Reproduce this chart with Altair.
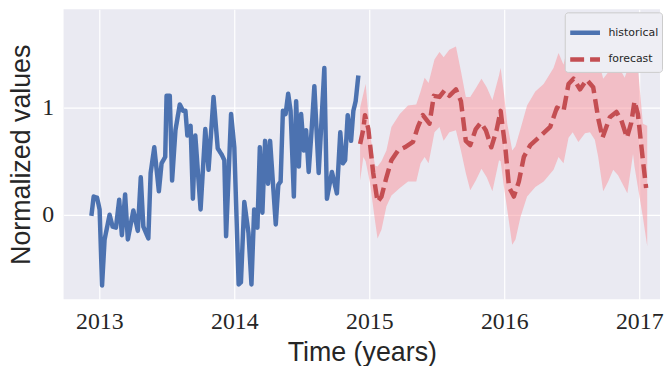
import altair as alt
import pandas as pd

# Historical series (decimal years, normalized values)
hist_t = [2012.941, 2012.958, 2012.983, 2013.002, 2013.020, 2013.039, 2013.076, 2013.098, 2013.123, 2013.147,
          2013.167, 2013.191, 2013.211, 2013.252, 2013.285, 2013.307, 2013.326, 2013.363, 2013.380, 2013.407,
          2013.441, 2013.461, 2013.488, 2013.498, 2013.522, 2013.539, 2013.564, 2013.596, 2013.620, 2013.638,
          2013.652, 2013.676, 2013.693, 2013.711, 2013.750, 2013.785, 2013.809, 2013.846, 2013.877, 2013.907,
          2013.926, 2013.939, 2013.976, 2014.000, 2014.032, 2014.049, 2014.074, 2014.105, 2014.127, 2014.147,
          2014.171, 2014.189, 2014.208, 2014.228, 2014.250, 2014.265, 2014.307, 2014.326, 2014.343, 2014.360,
          2014.380, 2014.399, 2014.417, 2014.441, 2014.458, 2014.478, 2014.495, 2014.515, 2014.532, 2014.551,
          2014.571, 2014.593, 2014.625, 2014.667, 2014.686, 2014.723, 2014.760, 2014.785, 2014.804, 2014.821,
          2014.840, 2014.865, 2014.882, 2014.899, 2014.919]
hist_v = [-0.01, 0.17, 0.16, 0.05, -0.66, -0.23, 0.00, -0.11, -0.12, 0.14,
          -0.19, 0.19, -0.23, 0.04, -0.15, 0.35, -0.11, -0.22, 0.39, 0.63,
          0.22, 0.48, 0.54, 1.11, 1.11, 0.32, 0.79, 1.03, 0.97, 0.97,
          0.74, 0.83, 0.15, 0.74, 0.05, 0.80, 0.42, 1.10, 0.62, 0.56,
          0.51, -0.20, 0.94, 0.63, -0.65, -0.63, 0.12, -0.17, -0.65, 0.05,
          -0.12, 0.63, 0.02, 0.69, 0.29, 0.69, -0.09, 0.28, 0.31, 0.97,
          0.94, 1.13, 0.97, 0.17, 1.06, 0.45, 0.94, 0.60, 0.79, 0.40,
          0.76, 1.20, 0.39, 1.37, 0.15, 0.40, 0.20, 0.77, 0.48, 0.51,
          0.93, 0.69, 0.97, 1.06, 1.30]

# Forecast series
fc_t = [2014.932, 2014.956, 2014.968, 2014.993, 2015.029, 2015.061, 2015.090, 2015.127, 2015.164, 2015.213,
        2015.263, 2015.324, 2015.360, 2015.397, 2015.446, 2015.478, 2015.520, 2015.557, 2015.593, 2015.642,
        2015.679, 2015.715, 2015.748, 2015.789, 2015.826, 2015.863, 2015.904, 2015.943, 2015.973, 2016.010,
        2016.035, 2016.071, 2016.108, 2016.145, 2016.193, 2016.255, 2016.340, 2016.390, 2016.439, 2016.476,
        2016.513, 2016.561, 2016.610, 2016.659, 2016.696, 2016.728, 2016.782, 2016.831, 2016.868, 2016.909,
        2016.941, 2016.965, 2016.990, 2017.027, 2017.051]
fc_v = [0.66, 0.80, 0.93, 0.80, 0.39, 0.12, 0.17, 0.35, 0.51, 0.60,
        0.63, 0.68, 0.82, 0.93, 0.85, 1.11, 1.10, 1.16, 1.11, 1.17,
        1.06, 0.69, 0.65, 0.80, 0.86, 0.79, 0.63, 0.79, 0.97, 0.60,
        0.26, 0.17, 0.31, 0.54, 0.65, 0.72, 0.82, 1.00, 0.97, 1.22,
        1.27, 1.17, 1.26, 1.19, 0.90, 0.72, 0.91, 0.96, 0.88, 0.72,
        0.86, 1.06, 0.94, 0.51, 0.25]

# Forecast uncertainty band
band_t = [2014.932, 2014.956, 2014.973, 2015.005, 2015.042, 2015.061, 2015.090, 2015.127, 2015.164, 2015.226,
          2015.287, 2015.348, 2015.380, 2015.410, 2015.439, 2015.483, 2015.520, 2015.551, 2015.593, 2015.642,
          2015.679, 2015.715, 2015.748, 2015.789, 2015.831, 2015.870, 2015.912, 2015.961, 2015.973, 2015.998,
          2016.022, 2016.059, 2016.083, 2016.120, 2016.169, 2016.230, 2016.292, 2016.365, 2016.402, 2016.439,
          2016.476, 2016.507, 2016.549, 2016.598, 2016.635, 2016.671, 2016.696, 2016.733, 2016.770, 2016.807,
          2016.843, 2016.892, 2016.912, 2016.954, 2016.965, 2016.990, 2017.027, 2017.059]
band_hi = [1.00, 1.13, 1.22, 0.76, 0.46, 0.45, 0.50, 0.60, 0.82, 0.94,
           1.02, 1.03, 1.15, 1.28, 1.23, 1.45, 1.52, 1.47, 1.54, 1.57,
           1.34, 1.10, 1.10, 1.18, 1.27, 1.19, 1.07, 1.30, 1.37, 1.13,
           0.85, 0.60, 0.64, 0.80, 1.02, 1.15, 1.22, 1.37, 1.51, 1.40,
           1.60, 1.74, 1.68, 1.73, 1.81, 1.65, 1.45, 1.27, 1.33, 1.48,
           1.39, 1.28, 1.35, 1.55, 1.64, 1.37, 0.85, 0.83]
band_lo = [0.32, 0.54, 0.50, 0.30, -0.05, -0.22, -0.14, 0.08, 0.18, 0.25,
           0.31, 0.31, 0.48, 0.54, 0.48, 0.77, 0.82, 0.69, 0.77, 0.79,
           0.60, 0.39, 0.23, 0.32, 0.43, 0.35, 0.22, 0.51, 0.50, 0.26,
           0.05, -0.28, -0.23, -0.02, 0.17, 0.26, 0.31, 0.42, 0.54, 0.48,
           0.72, 0.77, 0.68, 0.76, 0.77, 0.70, 0.54, 0.22, 0.31, 0.42,
           0.37, 0.25, 0.20, 0.57, 0.45, 0.26, -0.02, -0.29]

series_names = ["historical", "forecast"]
x_ticks = [2013, 2014, 2015, 2016, 2017]
y_ticks = [0, 1]

BLUE = "#4C72B0"
RED = "#C44E52"
BAND = "#FA929A"

lines_df = pd.DataFrame({
    "t": hist_t + fc_t,
    "v": hist_v + fc_v,
    "series": ["historical"] * len(hist_t) + ["forecast"] * len(fc_t),
})
band_df = pd.DataFrame({"t": band_t, "lo": band_lo, "hi": band_hi})

x_scale = alt.Scale(domain=[2012.735, 2017.154], nice=False, zero=False)
y_scale = alt.Scale(domain=[-0.787, 1.917], nice=False, zero=False)

x_axis = alt.Axis(values=x_ticks, format="d", title="Time (years)",
                  labelFontSize=24, labelPadding=11, titlePadding=6)
y_axis = alt.Axis(values=y_ticks, format="d", title="Normalized values",
                  labelFontSize=24, labelPadding=10, titlePadding=6)

band = alt.Chart(band_df).mark_area(color=BAND, opacity=0.5, interpolate="linear").encode(
    x=alt.X("t:Q", scale=x_scale, axis=x_axis),
    y=alt.Y("lo:Q", scale=y_scale, axis=y_axis),
    y2="hi:Q",
)

leg = alt.Legend(title=None, orient="none", legendX=505, legendY=3,
                 symbolType="stroke", symbolStrokeWidth=4.5, symbolSize=900,
                 labelFont="DejaVu Sans", labelFontSize=11, labelColor="#262626", labelOffset=6,
                 fillColor="#EEEEF4", strokeColor="#CCCCCC", cornerRadius=3,
                 padding=3, rowPadding=-15)

lines = alt.Chart(lines_df).mark_line(strokeWidth=4.5, strokeCap="butt", strokeJoin="round").encode(
    x=alt.X("t:Q", scale=x_scale),
    y=alt.Y("v:Q", scale=y_scale),
    color=alt.Color("series:N", scale=alt.Scale(domain=series_names, range=[BLUE, RED]), legend=leg),
    strokeDash=alt.StrokeDash("series:N", scale=alt.Scale(domain=series_names, range=[[1, 0], [14, 6]]),
                              legend=leg),
    detail="series:N",
)

chart = alt.layer(band, lines).properties(
    width=601, height=292, padding=0, background="white",
).configure_view(
    fill="#EAEAF2", strokeWidth=0, stroke="transparent"
).configure_axis(
    grid=True, gridColor="#FFFFFF", gridOpacity=1, gridWidth=1.2,
    ticks=False, domain=False,
    labelFont="Liberation Serif", labelColor="#262626",
    titleFont="Liberation Sans", titleFontSize=27, titleColor="#262626", titleFontWeight="normal",
)

chart.save("out.html", embed_options={"renderer": "svg", "actions": False})
